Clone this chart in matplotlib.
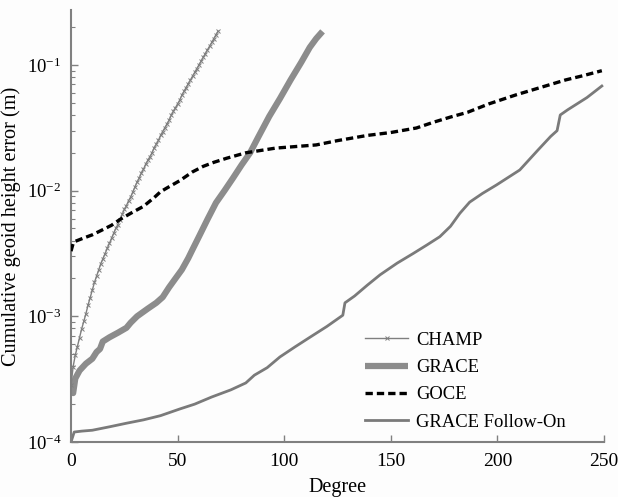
import numpy as np
import matplotlib
matplotlib.use("Agg")
import matplotlib.pyplot as plt

plt.rcParams['font.family'] = ['Liberation Serif', 'DejaVu Serif']
plt.rcParams['mathtext.fontset'] = 'custom'
plt.rcParams['mathtext.rm'] = 'Liberation Serif'
plt.rcParams['mathtext.it'] = 'Liberation Serif:italic'

# CHAMP, one value per degree 0..69 (m)
champ_deg = np.arange(0, 70)
champ_err = [2.82e-4, 3.98e-4, 4.90e-4, 5.75e-4, 6.76e-4, 7.94e-4, 9.12e-4, 1.05e-3, 1.23e-3, 1.41e-3,
             1.62e-3, 1.86e-3, 2.09e-3, 2.34e-3, 2.63e-3, 2.88e-3, 3.16e-3, 3.47e-3, 3.80e-3, 4.17e-3,
             4.57e-3, 5.01e-3, 5.37e-3, 5.89e-3, 6.46e-3, 7.08e-3, 7.59e-3, 8.32e-3, 8.91e-3, 9.77e-3,
             1.07e-2, 1.17e-2, 1.26e-2, 1.38e-2, 1.48e-2, 1.62e-2, 1.74e-2, 1.86e-2, 2.00e-2, 2.19e-2,
             2.34e-2, 2.51e-2, 2.75e-2, 2.95e-2, 3.16e-2, 3.39e-2, 3.63e-2, 3.98e-2, 4.27e-2, 4.57e-2,
             4.90e-2, 5.25e-2, 5.75e-2, 6.17e-2, 6.61e-2, 7.08e-2, 7.59e-2, 8.13e-2, 8.71e-2, 9.33e-2,
             0.100, 0.107, 0.115, 0.123, 0.132, 0.141, 0.151, 0.162, 0.174, 0.186]

grace_deg = [0, 1, 2, 4, 7, 10, 12, 13.6, 14.9, 18, 22, 26, 28, 31, 36, 40, 43, 46, 49, 52, 55,
             57, 60, 64, 68, 72, 76, 80, 84, 88, 93, 98, 103, 108, 112, 115, 118]
grace_err = [2.6e-4, 2.45e-4, 3.2e-4, 3.7e-4, 4.2e-4, 4.6e-4, 5.2e-4, 5.5e-4, 6.3e-4, 6.8e-4,
             7.4e-4, 8.1e-4, 8.9e-4, 1.0e-3, 1.15e-3, 1.28e-3, 1.42e-3, 1.7e-3, 2.0e-3, 2.35e-3, 2.9e-3,
             3.4e-3, 4.3e-3, 5.9e-3, 8.0e-3, 1.0e-2, 1.26e-2, 1.6e-2, 2.0e-2, 2.7e-2, 3.9e-2,
             5.4e-2, 7.6e-2, 0.105, 0.138, 0.162, 0.185]

goce_deg = [0, 1, 2, 6, 10, 15, 19, 23, 28, 34, 39, 42, 45, 51, 57, 62, 67, 73, 82, 96,
            105, 115, 125, 139, 150, 162, 170, 178, 186, 196, 209, 220, 232, 240, 249]
goce_err = [3.3e-3, 3.8e-3, 3.95e-3, 4.2e-3, 4.45e-3, 4.9e-3, 5.3e-3, 5.9e-3, 6.6e-3, 7.5e-3,
            8.8e-3, 9.8e-3, 1.05e-2, 1.2e-2, 1.41e-2, 1.56e-2, 1.68e-2, 1.81e-2, 2.0e-2, 2.18e-2,
            2.24e-2, 2.31e-2, 2.5e-2, 2.75e-2, 2.9e-2, 3.15e-2, 3.5e-2, 3.85e-2, 4.2e-2, 4.9e-2,
            5.8e-2, 6.6e-2, 7.6e-2, 8.2e-2, 9.0e-2]

gfo_deg = [0, 1.5, 5, 10, 18, 26, 34, 42, 51, 58, 66, 75, 82, 86, 92, 98, 105, 112, 120, 127.5,
           128.5, 133, 139, 145, 153, 160.5, 167, 173, 178, 182.4, 187, 193, 199.6, 210.5, 219,
           225, 228, 229.5, 233, 242, 249]
gfo_err = [1.0e-4, 1.2e-4, 1.22e-4, 1.24e-4, 1.32e-4, 1.41e-4, 1.5e-4, 1.62e-4, 1.83e-4, 2.0e-4,
           2.28e-4, 2.6e-4, 2.95e-4, 3.4e-4, 3.9e-4, 4.75e-4, 5.7e-4, 6.8e-4, 8.3e-4, 1.02e-3,
           1.28e-3, 1.45e-3, 1.77e-3, 2.14e-3, 2.65e-3, 3.16e-3, 3.7e-3, 4.3e-3, 5.2e-3, 6.6e-3,
           8.1e-3, 9.5e-3, 1.11e-2, 1.46e-2, 2.1e-2, 2.7e-2, 3.0e-2, 4.0e-2, 4.4e-2, 5.5e-2, 6.8e-2]

fig = plt.figure(figsize=(6.18, 4.97), dpi=100)
fig.patch.set_facecolor('#fdfdfd')
ax = fig.add_axes([0.1149, 0.1107, 0.8624, 0.8693])
ax.set_facecolor('#fdfdfd')

ax.plot(champ_deg, champ_err, color='#7f7f7f', lw=1.0, marker='x', ms=3.5, mew=0.7,
        label='CHAMP', zorder=3)
ax.plot(grace_deg, grace_err, color='#8c8c8c', lw=4.5, solid_capstyle='butt',
        label='GRACE', zorder=2)
ax.plot(goce_deg, goce_err, color='black', lw=2.4, dashes=(2.2, 1.2),
        label='GOCE', zorder=4)
ax.plot(gfo_deg, gfo_err, color='#7a7a7a', lw=2.0, label='GRACE Follow-On', zorder=2)

ax.set_yscale('log')
ax.set_xlim(0, 250)
ax.set_ylim(1e-4, 0.274)
ax.set_xticks([0, 50, 100, 150, 200, 250])

for s in ['top', 'right']:
    ax.spines[s].set_visible(False)
for s in ['left', 'bottom']:
    ax.spines[s].set_color('#808080')
    ax.spines[s].set_linewidth(1.5)

ax.tick_params(which='major', direction='in', length=5, width=1, color='#808080')
ax.tick_params(which='minor', direction='in', length=3, width=0.8, color='#808080')
ax.tick_params(axis='x', labelsize=14, pad=8)
ax.tick_params(axis='y', labelsize=13.5, pad=7)

ax.set_xlabel('Degree', fontsize=14.5, labelpad=6)
ax.set_ylabel('Cumulative geoid height error (m)', fontsize=14.6, labelpad=4)

leg = ax.legend(loc='lower left', bbox_to_anchor=(0.552, 0.026), frameon=False,
                fontsize=13.4, handlelength=2.3, handletextpad=0.45, labelspacing=0.55,
                borderpad=0, borderaxespad=0)

fig.savefig('out.png', dpi=100, facecolor=fig.get_facecolor())
